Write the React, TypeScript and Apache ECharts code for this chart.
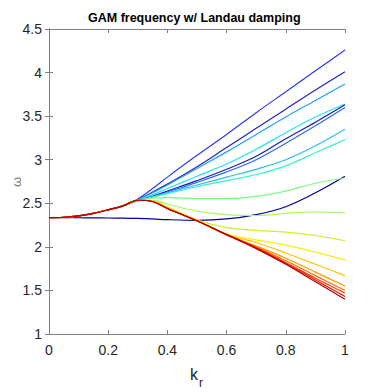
import React, { useEffect, useRef } from "react";
import * as echarts from "echarts";

// k_r sample points
const kr = [0, 0.05, 0.1, 0.15, 0.2, 0.25, 0.3, 0.35, 0.4, 0.5, 0.6, 0.7, 0.8, 0.9, 1];
// shared trunk for k = 0 .. 0.25
const trunk = [2.335, 2.34, 2.355, 2.385, 2.425, 2.47];

// full line (does not follow trunk)
const lineNavy = [2.335, 2.335, 2.334, 2.333, 2.331, 2.329, 2.326, 2.32, 2.312, 2.305, 2.32, 2.37, 2.46, 2.62, 2.81];

// branches for k = 0.3 .. 1
const lineA = [2.55, 2.67, 2.8, 3.05, 3.29, 3.54, 3.78, 4.02, 4.26];
const lineB = [2.54, 2.63, 2.72, 2.92, 3.14, 3.36, 3.58, 3.8, 4.01];
const lineC = [2.54, 2.62, 2.71, 2.9, 3.09, 3.29, 3.49, 3.68, 3.87];
const lineD = [2.535, 2.6, 2.67, 2.81, 2.95, 3.12, 3.31, 3.49, 3.64];
const lineE1 = [2.53, 2.58, 2.64, 2.76, 2.89, 3.04, 3.24, 3.43, 3.63];
const lineE2 = [2.53, 2.575, 2.63, 2.74, 2.86, 3.0, 3.19, 3.39, 3.6];
const lineF = [2.53, 2.57, 2.62, 2.71, 2.8, 2.89, 3.0, 3.16, 3.35];
const lineG = [2.53, 2.57, 2.61, 2.69, 2.76, 2.83, 2.93, 3.08, 3.23];
const lineH = [2.535, 2.56, 2.565, 2.555, 2.555, 2.58, 2.64, 2.73, 2.79];
const lineI = [2.535, 2.535, 2.49, 2.41, 2.37, 2.36, 2.385, 2.4, 2.39];
const lineJ = [2.535, 2.53, 2.46, 2.31, 2.22, 2.19, 2.17, 2.13, 2.07];
const lineK = [2.535, 2.525, 2.45, 2.3, 2.15, 2.08, 2.02, 1.94, 1.85];
const lineL = [2.535, 2.52, 2.445, 2.3, 2.14, 2.05, 1.93, 1.8, 1.67];
const lineM = [2.535, 2.52, 2.44, 2.3, 2.14, 2.01, 1.87, 1.71, 1.55];
const lineN = [2.535, 2.52, 2.44, 2.3, 2.14, 2.0, 1.84, 1.67, 1.5];
const lineO = [2.535, 2.52, 2.44, 2.3, 2.14, 1.99, 1.82, 1.64, 1.47];
const lineP = [2.535, 2.52, 2.44, 2.3, 2.14, 1.99, 1.81, 1.62, 1.43];
const lineQ = [2.535, 2.52, 2.44, 2.3, 2.14, 1.98, 1.8, 1.6, 1.4];

const branches = [lineA, lineB, lineC, lineD, lineE1, lineE2, lineF, lineG, lineH, lineI, lineJ, lineK, lineL, lineM, lineN, lineO, lineP, lineQ];
const colors = [
  "#2a3cf5", "#2222d0", "#1ea0ff", "#20e4f4", "#1a1ab4", "#2a6cff", "#28bcff", "#3cf0c8",
  "#80f880", "#a8f860", "#c8f028", "#f8f000", "#ffc400", "#ff9800", "#ff6a00", "#ff3c00",
  "#e81000", "#b40000",
];

const xTicks = [0, 1, 0.2];
const yTicks = [1, 4.5, 0.5];

export default function App() {
  const ref = useRef<HTMLDivElement>(null);
  useEffect(() => {
    document.body.style.margin = "0";
    const chart = echarts.init(ref.current!, null, { renderer: "svg" });
    const axisColor = "#808080";
    const font = "Liberation Sans";
    const series: any[] = [];
    series.push({
      type: "line",
      data: kr.map((k, i) => [k, lineNavy[i]]),
      showSymbol: false,
      smooth: 0.35,
      lineStyle: { color: "#00009a", width: 1.2 },
    });
    branches.forEach((b, j) => {
      const ys = trunk.concat(b);
      series.push({
        type: "line",
        data: kr.map((k, i) => [k, ys[i]]),
        showSymbol: false,
        smooth: 0.35,
        lineStyle: { color: colors[j], width: 1.2 },
      });
    });
    const baseX = {
      type: "value",
      min: xTicks[0],
      max: xTicks[1],
      interval: xTicks[2],
      splitLine: { show: false },
      axisLine: { show: true, lineStyle: { color: axisColor } },
      axisTick: { show: true, inside: true, length: 4, lineStyle: { color: axisColor } },
    };
    const baseY = {
      type: "value",
      min: yTicks[0],
      max: yTicks[1],
      interval: yTicks[2],
      splitLine: { show: false },
      axisLine: { show: true, lineStyle: { color: axisColor } },
      axisTick: { show: true, inside: true, length: 4, lineStyle: { color: axisColor } },
    };
    chart.setOption({
      animation: false,
      title: {
        text: "GAM frequency w/ Landau damping",
        left: 88,
        top: 11,
        padding: 0,
        textStyle: { fontFamily: font, fontSize: 12.5, fontWeight: "bold", color: "#000" },
      },
      grid: { left: 49, right: 37, top: 29, bottom: 58, outerBoundsMode: "none", containLabel: false },
      xAxis: [
        {
          ...baseX,
          position: "bottom",
          axisLabel: { color: "#262626", fontSize: 14, fontFamily: font, margin: 9 },
        },
        { ...baseX, position: "top", axisLabel: { show: false } },
      ],
      yAxis: [
        {
          ...baseY,
          position: "left",
          axisLabel: { color: "#262626", fontSize: 14, fontFamily: font, margin: 7 },
        },
        { ...baseY, position: "right", axisLabel: { show: false } },
      ],
      graphic: [
        { type: "text", x: 16, y: 182, rotation: Math.PI / 2, style: { text: "ω", font: "13px Liberation Sans", fill: "#777", align: "center", verticalAlign: "middle" } },
        { type: "text", x: 194, y: 374, style: { text: "k", font: "16px Liberation Sans", fill: "#262626", align: "center", verticalAlign: "middle" } },
        { type: "text", x: 201, y: 383, style: { text: "r", font: "12px Liberation Sans", fill: "#262626", align: "center", verticalAlign: "middle" } },
      ],
      series,
    });
    return () => chart.dispose();
  }, []);
  return <div ref={ref} style={{ width: 382, height: 392 }} />;
}
